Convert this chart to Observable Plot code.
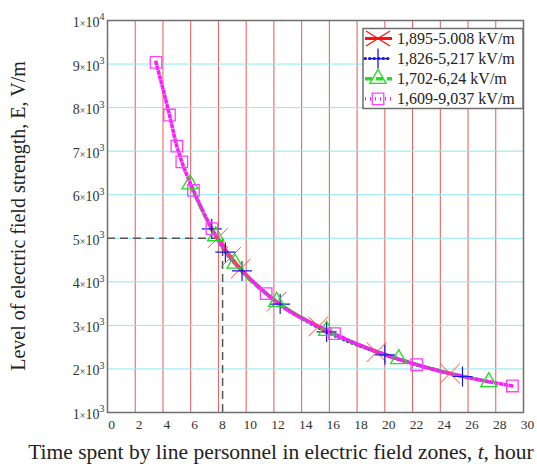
<!DOCTYPE html>
<html><head><meta charset="utf-8">
<script src="https://cdn.jsdelivr.net/npm/d3@7"></script>
<script src="https://cdn.jsdelivr.net/npm/@observablehq/plot@0.6"></script>
<style>body{margin:0;background:#fff}</style>
</head><body><div id="chart"></div>
<script>
// ---- data ----
const xTicks = [0,2,4,6,8,10,12,14,16,18,20,22,24,26,28,30];
const xGrid = [2,4,6,8,10,12,14,16,18,20,22,24,26,28];
const yTicks = [1000,2000,3000,4000,5000,6000,7000,8000,9000,10000];
const yGrid = [2000,3000,4000,5000,6000,7000,8000,9000];

const seriesNames = ["1,895-5.008 kV/m","1,826-5,217 kV/m","1,702-6,24 kV/m","1,609-9,037 kV/m"];
const redT = [7.96, 8.9, 9.6, 12.2, 15.2, 19.4, 24.7];
const redE = [5008, 4570, 4300, 3545, 2975, 2386, 1895];
const blueT = [7.52, 8.5, 9.7, 12.45, 15.8, 20.0, 25.6];
const blueE = [5217, 4680, 4250, 3490, 2850, 2324, 1826];
const greenT = [5.95, 7.8, 9.2, 12.2, 15.8, 21.0, 27.5];
const greenE = [6240, 5050, 4420, 3545, 2880, 2230, 1702];
const magT = [3.5, 4.47, 5.0, 5.36, 6.2, 7.53, 11.44, 16.37, 22.3, 29.2];
const magE = [9037, 7830, 7115, 6755, 6100, 5223, 3729, 2809, 2097, 1609];

const guideT = 8.3;
const guideE = 5000;

const xTitle = "Time spent by line personnel in electric field zones, ";
const yTitle = "Level of electric field strength, E, V/m";

// ---- build ----
const toRows = (T, E) => T.map((t, i) => ({t, E: E[i]}));
const red = toRows(redT, redE), blue = toRows(blueT, blueE),
      green = toRows(greenT, greenE), mag = toRows(magT, magE);

const FONT = "'Liberation Serif', 'Times New Roman', serif";

const chart = Plot.plot({
  width: 537, height: 464,
  marginLeft: 107, marginRight: 14, marginTop: 20, marginBottom: 52,
  style: {fontFamily: FONT, background: "#fff", overflow: "visible"},
  x: {domain: [0, 30]},
  y: {domain: [1000, 10000]},
  marks: [
    Plot.gridX(xGrid, {stroke: "#e25a5c", strokeOpacity: 1, strokeWidth: 1}),
    Plot.gridY(yGrid, {stroke: "#8ee8ec", strokeOpacity: 1, strokeWidth: 1}),
    Plot.ruleY([guideE], {x1: 0, x2: guideT, stroke: "#555", strokeWidth: 1.5, strokeDasharray: "8,5"}),
    Plot.ruleX([guideT], {y1: 1000, y2: guideE, stroke: "#555", strokeWidth: 1.5, strokeDasharray: "8,5"}),
    Plot.line(red, {x: "t", y: "E", stroke: "#ff1010", strokeWidth: 3, curve: "monotone-x"}),
    Plot.line(blue, {x: "t", y: "E", stroke: "#1a1adf", strokeWidth: 3, strokeDasharray: "0.5,4", strokeLinecap: "round", curve: "monotone-x"}),
    Plot.line(green, {x: "t", y: "E", stroke: "#22dd22", strokeWidth: 3.5, strokeDasharray: "7,4", curve: "monotone-x"}),
    Plot.line(mag, {x: "t", y: "E", stroke: "#ff1aff", strokeWidth: 3.5, strokeDasharray: "1,4", strokeLinecap: "square", curve: "monotone-x"}),
    Plot.dot(red, {x: "t", y: "E", symbol: "times", r: 9, stroke: "#ff4a40", strokeWidth: 1, fill: "none"}),
    Plot.dot(blue, {x: "t", y: "E", symbol: "plus", r: 6.5, stroke: "#1a1adf", strokeWidth: 1.2, fill: "none"}),
    Plot.dot(green, {x: "t", y: "E", symbol: "triangle", r: 6, stroke: "#22dd22", strokeWidth: 1.3, fill: "none"}),
    Plot.dot(mag, {x: "t", y: "E", symbol: "square", r: 6.5, stroke: "#ff40ff", strokeWidth: 1.3, fill: "none"}),
    Plot.frame({stroke: "#6e6e6e", strokeWidth: 1.5}),
    Plot.axisX({ticks: xTicks, tickSize: 0, tickPadding: 7, label: null, fontSize: 13.5, fontFamily: FONT, color: "#333", dx: 4, tickFormat: d => String(d)}),
    Plot.axisY({ticks: yTicks, tickSize: 0, tickPadding: 3, label: null, fontSize: 14, fontFamily: FONT, color: "#333", dy: 2,
      tickFormat: d => d === 10000 ? "1|4" : (d / 1000) + "|3"})
  ]
});
document.getElementById("chart").appendChild(chart);

const svg = d3.select(chart);
// superscript tick labels
svg.selectAll('g[aria-label="y-axis tick label"] text').each(function() {
  const s = d3.select(this);
  const [m, e] = s.text().split("|");
  s.text(null);
  s.append("tspan").text(m);
  s.append("tspan").attr("font-size", 10).text("×");
  s.append("tspan").text("10");
  s.append("tspan").attr("font-size", 10).attr("dy", "-0.65em").text(e);
});

// legend
const leg = svg.append("g").attr("font-family", FONT).attr("text-anchor", "start");
leg.append("rect").attr("x", 363).attr("y", 28.5).attr("width", 160).attr("height", 80)
  .attr("fill", "#fff").attr("stroke", "#6e6e6e").attr("stroke-width", 1.5);
const bigX = "M-12,-7.5L12,7.5M-12,7.5L12,-7.5";
const legStyles = [
  {stroke: "#ff1010", dash: null, path: bigX, mstroke: "#ff1010", sw: 3},
  {stroke: "#1a1adf", dash: "0.5,4", path: d3.symbol(d3.symbolPlus, 6.5 * 6.5 * Math.PI)(), mstroke: "#1a1adf", sw: 3},
  {stroke: "#22dd22", dash: "7,4", path: d3.symbol(d3.symbolTriangle, 6 * 6 * Math.PI)(), mstroke: "#22dd22", sw: 3.5},
  {stroke: "#ff1aff", dash: "1,4", path: d3.symbol(d3.symbolSquare, 6.5 * 6.5 * Math.PI)(), mstroke: "#ff40ff", sw: 3.5}
];
seriesNames.forEach((name, i) => {
  const y = 38.5 + i * 20.1;
  const st = legStyles[i];
  leg.append("line").attr("x1", 365).attr("x2", 392).attr("y1", y).attr("y2", y)
    .attr("stroke", st.stroke).attr("stroke-width", st.sw)
    .attr("stroke-dasharray", st.dash).attr("stroke-linecap", i === 1 ? "round" : "butt");
  leg.append("path").attr("transform", `translate(378,${y})`)
    .attr("d", st.path)
    .attr("fill", "none").attr("stroke", st.mstroke).attr("stroke-width", 1.3);
  leg.append("text").attr("x", 397).attr("y", y).attr("dy", "0.35em")
    .attr("font-size", 16).attr("fill", "#222").text(name);
});

// axis titles
const xt = svg.append("text").attr("x", 281).attr("y", 459).attr("text-anchor", "middle")
  .attr("font-family", FONT).attr("font-size", 21.5).attr("fill", "#222");
xt.append("tspan").text(xTitle);
xt.append("tspan").attr("font-style", "italic").text("t");
xt.append("tspan").text(", hour");

svg.append("text").attr("transform", "translate(25,216) rotate(-90)")
  .attr("text-anchor", "middle").attr("font-family", FONT).attr("font-size", 20)
  .attr("fill", "#222").text(yTitle);
</script>
</body></html>
